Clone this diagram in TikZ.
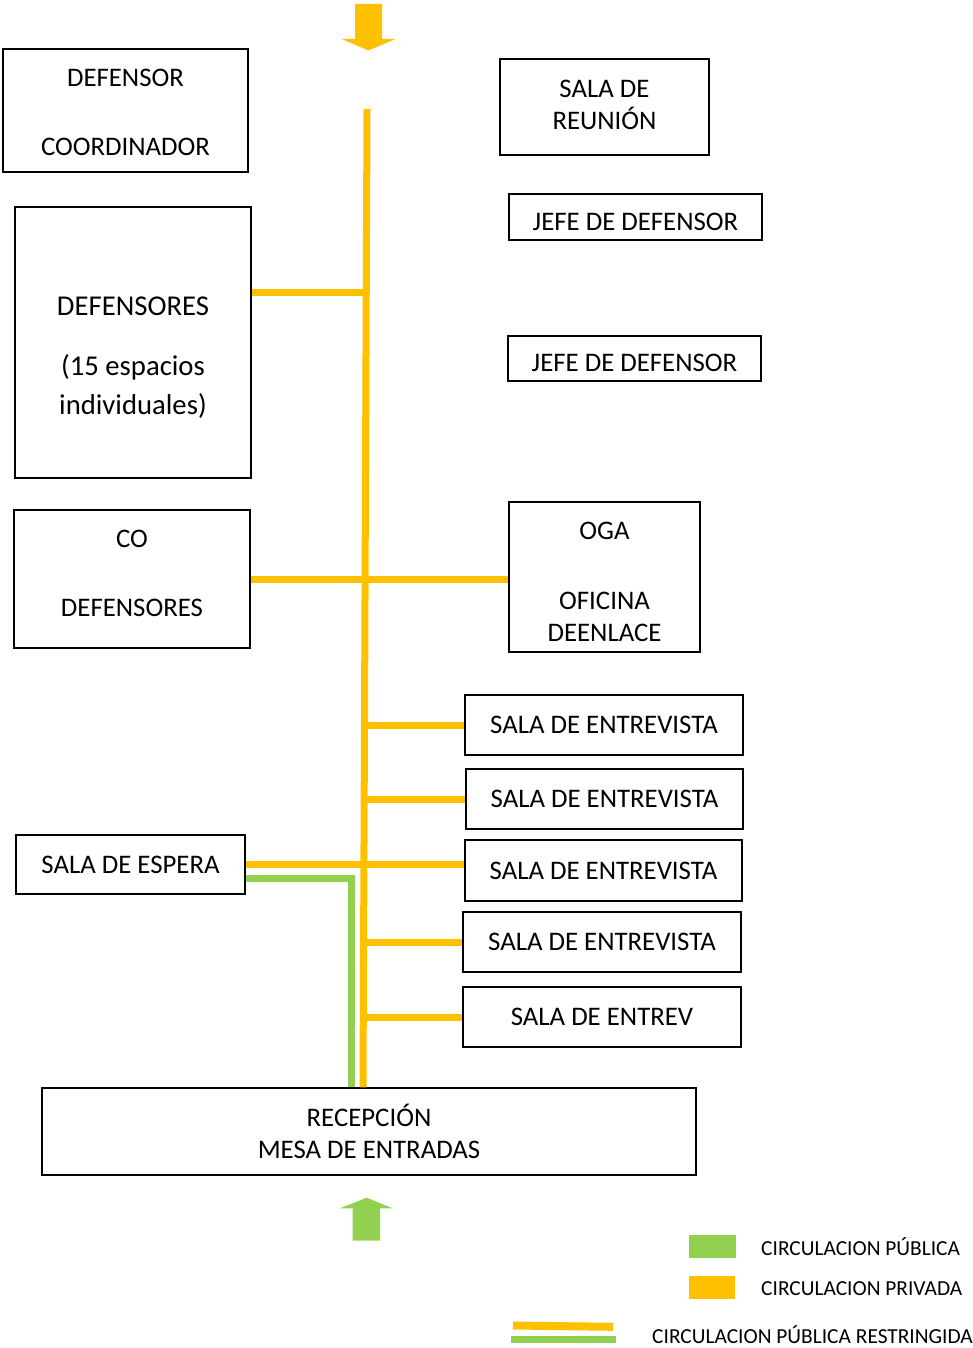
\documentclass[tikz,border=0pt]{standalone}
\usepackage{fontspec}
\setmainfont{Carlito}
\usetikzlibrary{positioning,calc}
\definecolor{pvyellow}{RGB}{255,192,0}
\definecolor{pbgreen}{RGB}{146,208,80}
\tikzstyle{room} = [draw, line width=1.5pt, align=center, inner sep=0pt, font=\fontsize{26.8}{32}\selectfont]
\tikzstyle{bigtxt} = [align=center, font=\fontsize{28.7}{39}\selectfont]
\tikzstyle{legtxt} = [anchor=west, inner sep=0pt, font=\fontsize{21.4}{25}\selectfont]
\tikzstyle{privada} = [line width=7pt, color=pvyellow]
\tikzstyle{publica} = [line width=7pt, color=pbgreen]
% struts to move text inside a box
\newcommand{\upstrut}[1]{\rule{0pt}{#1}}
\newcommand{\dnstrut}[1]{\rule[-#1]{0pt}{#1}}

\begin{document}
\begin{tikzpicture}[x=1pt, y=-1pt]
\useasboundingbox (0,0) rectangle (973,1348);
% Rooms left
\node[room, minimum width=245pt, minimum height=123pt] (coord) at (125.5,110.5) {\upstrut{21pt}DEFENSOR\\[37pt]COORDINADOR};
\node[room, minimum width=236pt, minimum height=271pt] (defensores) at (133,342.5) {};
\node[bigtxt] (defensorestxt) at ([yshift=-15pt]defensores.center) {DEFENSORES\\[21pt](15 espacios\\individuales)};
\node[room, minimum width=236pt, minimum height=138pt] (codef) at (132,579) {CO\\[37pt]DEFENSORES\dnstrut{12pt}};
\node[room, minimum width=229pt, minimum height=59pt] (espera) at (130.5,864.5) {SALA DE ESPERA};
% Rooms right
\node[room, minimum width=209pt, minimum height=96pt] (reunion) at (604.5,107) {SALA DE\\REUNIÓN\dnstrut{5pt}};
\node[room, minimum width=253pt, minimum height=46pt] (jefeA) at (635.5,217) {\upstrut{27pt}JEFE DE DEFENSOR};
\node[room, minimum width=253pt, minimum height=45pt] (jefeB) at (634.5,358.5) {\upstrut{27pt}JEFE DE DEFENSOR};
\node[room, minimum width=191pt, minimum height=150pt] (oga) at (604.5,577) {\upstrut{27pt}OGA\\[38pt]OFICINA\\DEENLACE};
\node[room, minimum width=278pt, minimum height=60pt] (entA) at (604,725) {SALA DE ENTREVISTA};
\node[room, minimum width=277pt, minimum height=60pt] (entB) at (604.5,799) {SALA DE ENTREVISTA};
\node[room, minimum width=277pt, minimum height=61pt] (entC) at (603.5,870.5) {SALA DE ENTREVISTA};
\node[room, minimum width=278pt, minimum height=60pt] (entD) at (602,942) {SALA DE ENTREVISTA};
\node[room, minimum width=278pt, minimum height=60pt] (entE) at (602,1017) {SALA DE ENTREV};
% Reception
\node[room, minimum width=654pt, minimum height=87pt] (recep) at (369,1131.5) {RECEPCIÓN\\MESA DE ENTRADAS};

% Entry arrows
\fill[pvyellow] (355,4) -- (382,4) -- (382,39) -- (395.5,39) -- (368.3,50.5) -- (341.7,39) -- (355,39) -- cycle;
\fill[pbgreen] (352.7,1240.7) -- (380,1240.7) -- (380,1208.3) -- (392.7,1208.3) -- (366.7,1197.7) -- (340,1208.3) -- (352.7,1208.3) -- cycle;

% Private circulation
\coordinate (trunk) at (365,0);
\coordinate (trunktop) at (367,109);
\coordinate (jdef) at (365,292.5);
\draw[privada] (trunktop) -- (363,0 |- recep.north);
\draw[privada] (jdef -| defensores.east) -- (jdef);
\draw[privada] (codef.east) -- (codef.east -| oga.west);
\draw[privada] (entA.west) -- (entA.west -| trunk);
\draw[privada] (entB.west) -- (entB.west -| trunk);
\draw[privada] (espera.east) -- (espera.east -| entC.west);
\draw[privada] (entD.west) -- (entD.west -| trunk);
\draw[privada] (entE.west) -- (entE.west -| trunk);

% Public circulation
\coordinate (gturn) at (351.5,878.5);
\draw[publica] (espera.east |- gturn) -- (gturn) -- (gturn |- recep.north);

% Legend
\fill[pbgreen] (689,1235) rectangle (736,1258);
\node[legtxt] (legpub) at (761,1247) {CIRCULACION PÚBLICA};
\fill[pvyellow] (689,1276) rectangle (735,1299);
\node[legtxt] (legpriv) at (761,1289) {CIRCULACION PRIVADA};
\draw[line width=8pt, pvyellow] (513,1325.5) -- (613,1326.8);
\draw[line width=7pt, pbgreen] (511,1339) -- (616,1339);
\node[legtxt] (legres) at (652,1335) {CIRCULACION PÚBLICA RESTRINGIDA};
\end{tikzpicture}
\end{document}
